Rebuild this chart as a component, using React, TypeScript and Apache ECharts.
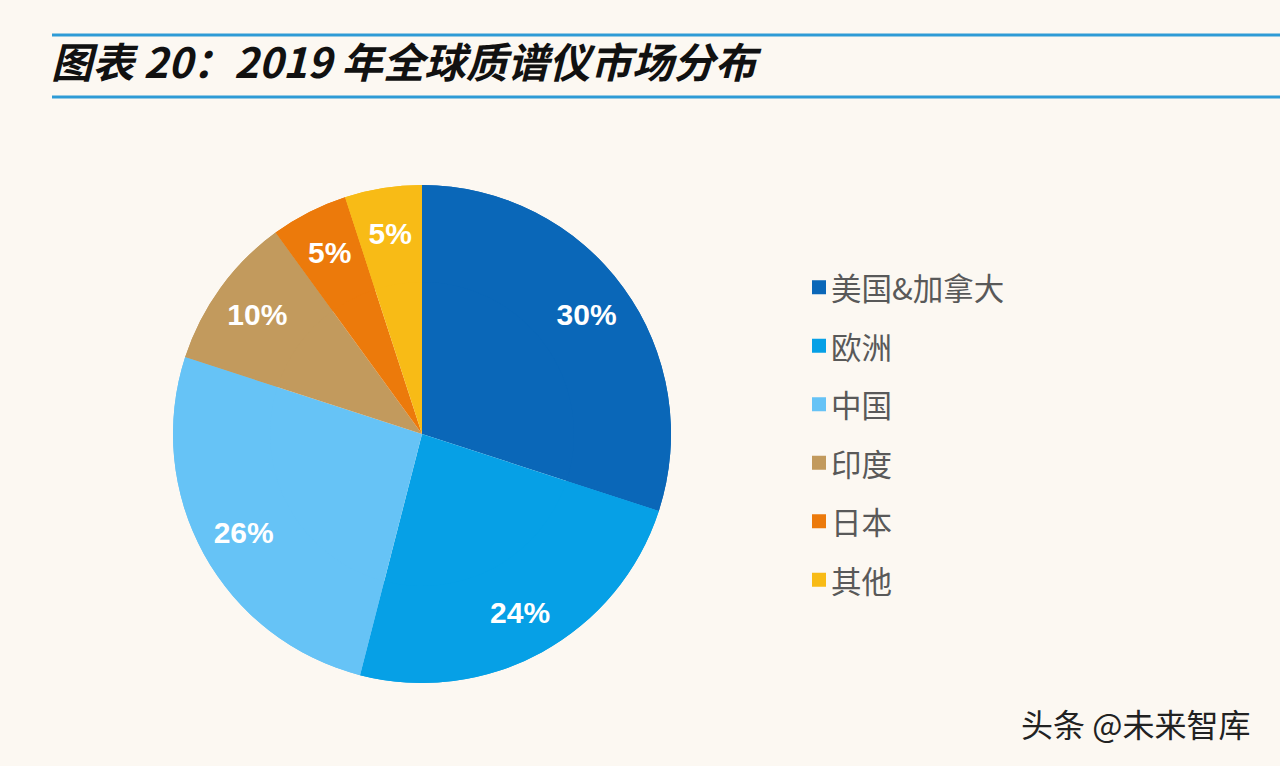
import React, { useEffect, useRef } from "react";
import * as echarts from "echarts";

const categories = ["美国&加拿大", "欧洲", "中国", "印度", "日本", "其他"];
const shares = [30, 24, 26, 10, 5, 5];
const colors = ["#0A67B8", "#06A0E6", "#66C3F6", "#C29A5D", "#EC7A0B", "#F8BB16"];
const titleText = "图表 20：2019 年全球质谱仪市场分布";
const watermark = "头条 @未来智库";

export default function App() {
  const ref = useRef<HTMLDivElement>(null);
  useEffect(() => {
    document.body.style.margin = "0";
    const chart = echarts.init(ref.current!, null, { renderer: "svg" });
    const data = categories.map((name, i) => ({
      name,
      value: shares[i],
      itemStyle: { color: colors[i] },
    }));
    chart.setOption({
      animation: false,
      backgroundColor: "#FCF8F2",
      title: {
        text: titleText,
        left: 46,
        top: 34,
        textStyle: {
          fontFamily: "Noto Sans CJK SC",
          fontWeight: "bold",
          fontStyle: "italic",
          fontSize: 41.5,
          color: "#111111",
        },
      },
      legend: {
        orient: "vertical",
        left: 807,
        top: 267,
        itemWidth: 14,
        itemHeight: 14,
        itemGap: 28,
        icon: "rect",
        data: categories,
        textStyle: {
          fontFamily: "Noto Sans CJK SC",
          fontSize: 30.5,
          lineHeight: 30,
          color: "#595959",
        },
      },
      graphic: [
        {
          type: "line",
          shape: { x1: 52, y1: 35, x2: 1280, y2: 35 },
          style: { stroke: "#2E9BD6", lineWidth: 3 },
        },
        {
          type: "line",
          shape: { x1: 52, y1: 97, x2: 1280, y2: 97 },
          style: { stroke: "#2E9BD6", lineWidth: 3 },
        },
        {
          type: "text",
          left: 1021,
          top: 707,
          style: {
            text: watermark,
            fontFamily: "Noto Sans CJK SC",
            fontSize: 32,
            fill: "#222222",
            textShadowColor: "#FFFFFF",
            textShadowOffsetX: 1,
            textShadowOffsetY: 1,
            textShadowBlur: 0,
          },
        },
      ],
      series: [
        {
          type: "pie",
          center: [422, 434],
          radius: [0, 249],
          startAngle: 90,
          clockwise: true,
          label: { show: false },
          labelLine: { show: false },
          emphasis: { disabled: true },
          data,
        },
        {
          type: "pie",
          center: [422, 434],
          radius: [152, 249],
          startAngle: 90,
          clockwise: true,
          silent: true,
          label: {
            show: true,
            position: "inside",
            formatter: "{c}%",
            color: "#FFFFFF",
            fontFamily: "Liberation Sans",
            fontWeight: "bold",
            fontSize: 30,
          },
          labelLine: { show: false },
          emphasis: { disabled: true },
          data,
        },
      ],
    });
    return () => chart.dispose();
  }, []);
  return <div ref={ref} style={{ width: 1280, height: 766 }} />;
}
